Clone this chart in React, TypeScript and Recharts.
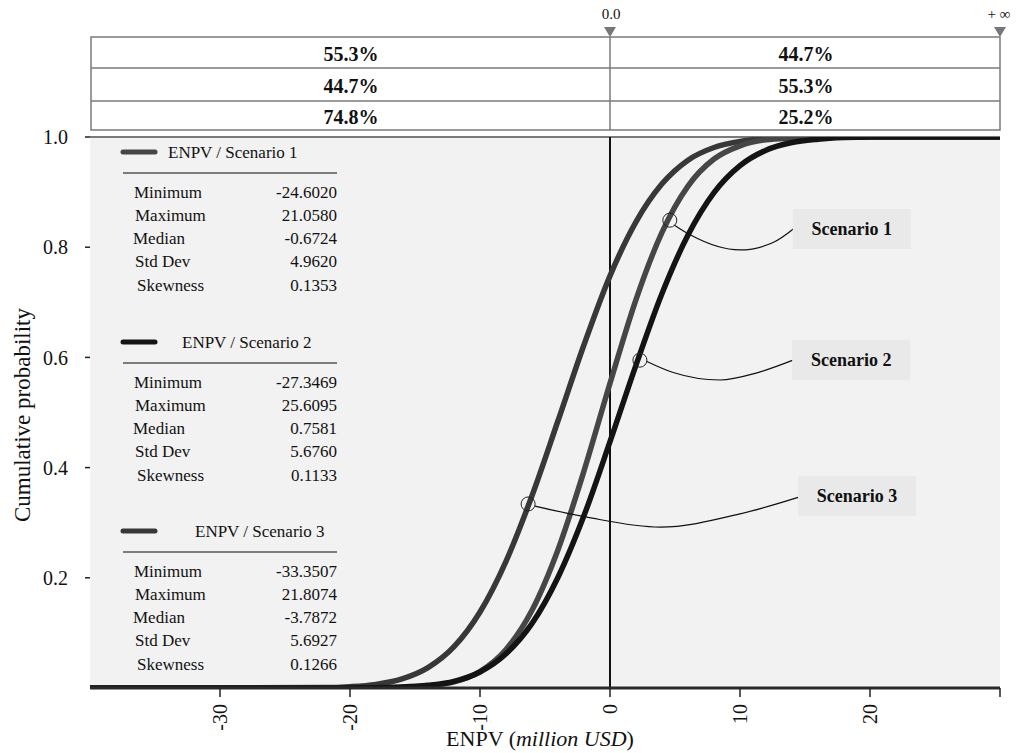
import React from 'react';
import {
  LineChart,
  Line,
  XAxis,
  YAxis,
  ReferenceLine,
  ReferenceDot,
  ReferenceArea,
} from 'recharts';

const FONT = '"Liberation Serif", "Times New Roman", serif';

// ENPV grid (million USD)
const enpvX = [-40, -22, -20, -18, -16, -14, -12, -10, -8, -6, -4, -2, 0, 2, 4, 6, 8, 10, 12, 14, 16, 18, 20, 30];
// cumulative probabilities
const scenario1 = [0, 0, 0.0001, 0.0004, 0.0012, 0.004, 0.011, 0.03, 0.07, 0.141, 0.251, 0.394, 0.553, 0.705, 0.827, 0.911, 0.96, 0.984, 0.995, 0.998, 1, 1, 1, 1];
const scenario2 = [0, 0, 0.0002, 0.0006, 0.0018, 0.005, 0.012, 0.029, 0.062, 0.117, 0.201, 0.313, 0.447, 0.586, 0.716, 0.822, 0.899, 0.948, 0.976, 0.99, 0.996, 0.999, 1, 1];
const scenario3 = [0, 0.0008, 0.0024, 0.0066, 0.0165, 0.037, 0.075, 0.138, 0.23, 0.349, 0.485, 0.623, 0.748, 0.846, 0.915, 0.958, 0.981, 0.992, 0.997, 0.999, 1, 1, 1, 1];

const yTicks = [0.2, 0.4, 0.6, 0.8, 1.0];
const xTicks = [-30, -20, -10, 0, 10, 20, 30];

// probability table: P(ENPV < 0), P(ENPV > 0)
const tableLeft = ['55.3%', '44.7%', '74.8%'];
const tableRight = ['44.7%', '55.3%', '25.2%'];

// summary statistics
const statNames = ['Minimum', 'Maximum', 'Median', 'Std Dev', 'Skewness'];
const stats1 = ['-24.6020', '21.0580', '-0.6724', '4.9620', '0.1353'];
const stats2 = ['-27.3469', '25.6095', '0.7581', '5.6760', '0.1133'];
const stats3 = ['-33.3507', '21.8074', '-3.7872', '5.6927', '0.1266'];

// callout markers (x, cumulative p)
const marker1 = { x: 4.6, y: 0.849 };
const marker2 = { x: 2.3, y: 0.595 };
const marker3 = { x: -6.3, y: 0.334 };
const label1 = { x: 18.6, y: 0.833, text: 'Scenario 1' };
const label2 = { x: 18.55, y: 0.595, text: 'Scenario 2' };
const label3 = { x: 19.0, y: 0.348, text: 'Scenario 3' };
const connector1 = [
  { x: 4.95, y: 0.84 },
  { x: 6.2, y: 0.822 },
  { x: 10, y: 0.795 },
  { x: 12.5, y: 0.808 },
  { x: 14.2, y: 0.835 },
];
const connector2 = [
  { x: 2.8, y: 0.593 },
  { x: 4.8, y: 0.573 },
  { x: 8.46, y: 0.559 },
  { x: 11.3, y: 0.572 },
  { x: 14.08, y: 0.595 },
];
const connector3 = [
  { x: -5.77, y: 0.33 },
  { x: -1.77, y: 0.31 },
  { x: 3.85, y: 0.292 },
  { x: 10, y: 0.316 },
  { x: 14.6, y: 0.347 },
];

const data = enpvX.map((x, i) => ({ x, s1: scenario1[i], s2: scenario2[i], s3: scenario3[i] }));

const C1 = '#464646';
const C2 = '#141414';
const C3 = '#383838';

const XTick = (props: any) => {
  const { x, y, payload } = props;
  if (payload.value === 30) return <g />;
  const ty = y + 3;
  return (
    <text
      x={x}
      y={ty}
      transform={`rotate(-90 ${x} ${ty})`}
      textAnchor="end"
      dominantBaseline="central"
      fontSize={20}
      fontFamily={FONT}
      fill="#111"
    >
      {payload.value}
    </text>
  );
};

const LabelBox = (text: string) => (props: any) => {
  const { cx, cy } = props;
  return (
    <g>
      <rect x={cx - 59} y={cy - 20} width={118} height={40} fill="#e9e9e9" />
      <text
        x={cx}
        y={cy}
        textAnchor="middle"
        dominantBaseline="central"
        fontSize={18}
        fontWeight="bold"
        fontFamily={FONT}
        fill="#111"
      >
        {text}
      </text>
    </g>
  );
};

const StatBlock = ({ top, headerX, title, color, values }: any) => (
  <g fontFamily={FONT} fill="#111">
    <line x1={123} x2={155} y1={top} y2={top} stroke={color} strokeWidth={5} strokeLinecap="round" />
    <text x={headerX} y={top} dominantBaseline="central" fontSize={17}>
      {title}
    </text>
    <line x1={123} x2={337} y1={top + 21} y2={top + 21} stroke="#555" strokeWidth={1.5} />
    {statNames.map((n, i) => (
      <g key={n}>
        <text x={[134, 135, 133, 135, 137][i]} y={top + 40 + i * 23.3} dominantBaseline="central" fontSize={17}>
          {n}
        </text>
        <text x={337} y={top + 40 + i * 23.3} dominantBaseline="central" textAnchor="end" fontSize={17}>
          {values[i]}
        </text>
      </g>
    ))}
  </g>
);

const Decorations = () => {
  const rows = [37, 68, 101, 130];
  return (
    <svg
      width={1021}
      height={753}
      style={{ position: 'absolute', left: 0, top: 0, pointerEvents: 'none' }}
    >
      <g fontFamily={FONT}>
        {/* probability table */}
        <rect x={91} y={37} width={909} height={93} fill="#fff" stroke="#7a7a7a" strokeWidth={1.5} />
        <line x1={91} x2={1000} y1={68} y2={68} stroke="#7a7a7a" strokeWidth={1.5} />
        <line x1={91} x2={1000} y1={101} y2={101} stroke="#7a7a7a" strokeWidth={1.5} />
        <line x1={610} x2={610} y1={37} y2={130} stroke="#7a7a7a" strokeWidth={1.5} />
        {tableLeft.map((t, i) => (
          <text
            key={'l' + i}
            x={351}
            y={(rows[i] + rows[i + 1]) / 2 + 1}
            textAnchor="middle"
            dominantBaseline="central"
            fontSize={20}
            fontWeight="bold"
            fill="#111"
          >
            {t}
          </text>
        ))}
        {tableRight.map((t, i) => (
          <text
            key={'r' + i}
            x={806}
            y={(rows[i] + rows[i + 1]) / 2 + 1}
            textAnchor="middle"
            dominantBaseline="central"
            fontSize={20}
            fontWeight="bold"
            fill="#111"
          >
            {t}
          </text>
        ))}
        <polygon points="604,27 616,27 610,37" fill="#777" />
        <polygon points="994,27 1006,27 1000,37" fill="#777" />
        <text x={611} y={19} textAnchor="middle" fontSize={15} fill="#111">
          0.0
        </text>
        <text x={999} y={19} textAnchor="middle" fontSize={15} fill="#111">
          + ∞
        </text>
        {/* statistics legend */}
        <StatBlock top={152} headerX={168} title="ENPV / Scenario 1" color={C1} values={stats1} />
        <StatBlock top={342} headerX={182} title="ENPV / Scenario 2" color={C2} values={stats2} />
        <StatBlock top={531} headerX={195} title="ENPV / Scenario 3" color={C3} values={stats3} />
        {/* axis titles */}
        <text
          x={22}
          y={415}
          transform="rotate(-90 22 415)"
          textAnchor="middle"
          dominantBaseline="central"
          fontSize={23}
          fill="#111"
        >
          Cumulative probability
        </text>
        <text x={540} y={746} textAnchor="middle" fontSize={22} fill="#111">
          ENPV (<tspan fontStyle="italic">million USD</tspan>)
        </text>
      </g>
    </svg>
  );
};

export default function App() {
  return (
    <div style={{ position: 'absolute', left: 0, top: 0, width: 1021, height: 753, background: '#fff' }}>
      <LineChart width={1021} height={753} data={data} margin={{ top: 137, right: 21, bottom: 0, left: 0 }}>
        <ReferenceArea x1={-40} x2={30} y1={0} y2={1} fill="#f2f2f2" fillOpacity={1} stroke="none" />
        <XAxis
          type="number"
          dataKey="x"
          domain={[-40, 30]}
          ticks={xTicks}
          allowDataOverflow
          height={65}
          axisLine={{ stroke: '#2a2a2a', strokeWidth: 3 }}
          tickLine={{ stroke: '#222', strokeWidth: 1.5 }}
          tickSize={9}
          tickMargin={4}
          tick={<XTick />}
          interval={0}
        />
        <YAxis
          type="number"
          domain={[0, 1]}
          ticks={yTicks}
          allowDataOverflow
          width={90}
          axisLine={false}
          tickLine={{ stroke: '#222', strokeWidth: 1.5 }}
          tickSize={5}
          tickMargin={17}
          tickFormatter={(v: number) => v.toFixed(1)}
          tick={{ fontSize: 20, fontFamily: FONT, fill: '#111' }}
          interval={0}
        />
        <ReferenceLine y={1} stroke="#7a7a7a" strokeWidth={2} />
        <ReferenceLine x={0} stroke="#111" strokeWidth={2} />
        <Line dataKey="s3" type="monotone" stroke={C3} strokeWidth={5.5} dot={false} isAnimationActive={false} />
        <Line dataKey="s1" type="monotone" stroke={C1} strokeWidth={5.5} dot={false} isAnimationActive={false} />
        <Line dataKey="s2" type="monotone" stroke={C2} strokeWidth={5.5} dot={false} isAnimationActive={false} />
        <Line data={connector1} dataKey="y" type="monotone" stroke="#111" strokeWidth={1.2} dot={false} isAnimationActive={false} />
        <Line data={connector2} dataKey="y" type="monotone" stroke="#111" strokeWidth={1.2} dot={false} isAnimationActive={false} />
        <Line data={connector3} dataKey="y" type="monotone" stroke="#111" strokeWidth={1.2} dot={false} isAnimationActive={false} />
        <ReferenceDot x={marker1.x} y={marker1.y} r={7} fill="none" stroke="#222" strokeWidth={1} />
        <ReferenceDot x={marker2.x} y={marker2.y} r={7} fill="none" stroke="#222" strokeWidth={1} />
        <ReferenceDot x={marker3.x} y={marker3.y} r={7} fill="none" stroke="#222" strokeWidth={1} />
        <ReferenceDot x={label1.x} y={label1.y} r={1} shape={LabelBox(label1.text)} />
        <ReferenceDot x={label2.x} y={label2.y} r={1} shape={LabelBox(label2.text)} />
        <ReferenceDot x={label3.x} y={label3.y} r={1} shape={LabelBox(label3.text)} />
      </LineChart>
      <Decorations />
    </div>
  );
}
